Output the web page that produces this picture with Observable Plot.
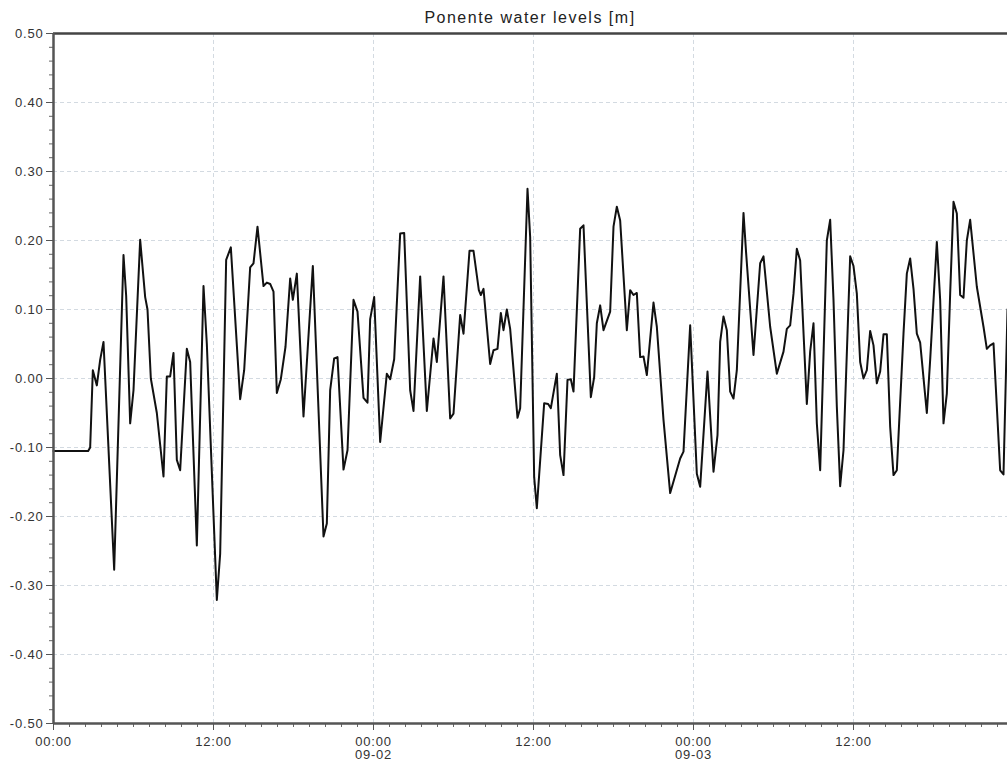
<!DOCTYPE html>
<html>
<head>
<meta charset="utf-8">
<script src="https://cdn.jsdelivr.net/npm/d3@7"></script>
<script src="https://cdn.jsdelivr.net/npm/@observablehq/plot@0.6"></script>
<style>
  html, body { margin: 0; padding: 0; background: #fff; }
  #wrap { position: relative; width: 1007px; height: 773px; overflow: hidden; }
  #title { position: absolute; top: 9px; left: 53px; right: 0; text-align: center;
           font-family: "Liberation Sans", Arial, sans-serif; font-size: 16px;
           letter-spacing: 1.5px; color: #222; }
</style>
</head>
<body>
<div id="wrap"><div id="title"></div></div>
<script>
const titleText = "Ponente water levels [m]";
// hours since 09-01 00:00
const hours = [0,2.6,2.75,2.95,3.25,3.5,3.75,4.55,5.25,5.45,5.75,6.0,6.5,6.875,7.05,7.3,7.75,8.25,8.5,8.75,9.0,9.25,9.5,10.0,10.25,10.75,11.25,11.5,12.25,12.5,12.95,13.3,14.0,14.3,14.75,15.0,15.3,15.75,16.0,16.25,16.5,
16.75,17.05,17.4,17.75,17.95,18.25,18.75,19.45,20.25,20.5,20.75,21.05,21.3,21.75,22.05,22.5,22.8,23.25,23.55,23.75,24.05,24.5,25.0,25.25,25.55,26.0,26.3,26.75,27.0,27.5,28.0,28.5,28.75,29.25,29.75,30.0,30.5,30.75,31.2,31.5,31.9,32.05,32.25,32.75,33.0,33.3,33.55,33.75,34.0,34.25,
34.8,35.0,35.55,35.75,36.05,36.25,36.8,37.1,37.3,37.75,38.0,38.25,38.55,38.8,39.0,39.5,39.75,40.3,40.55,40.75,41.0,41.25,41.75,42.0,42.25,42.5,43.0,43.25,43.5,43.75,44.0,44.25,44.5,45.0,45.25,45.75,46.25,47.0,47.25,47.75,48.25,48.5,49.05,49.5,49.8,50.0,50.25,50.5,50.75,51.0,51.25,
51.75,51.95,52.5,53.0,53.25,53.75,54.25,54.75,55.0,55.25,55.5,55.75,56.0,56.5,56.75,57.0,57.25,57.5,58.0,58.25,58.5,58.75,59.0,59.25,59.75,60.0,60.25,60.5,60.75,61.0,61.25,61.5,61.75,62.0,62.25,62.5,62.75,63.0,63.25,63.75,64.0,64.25,64.5,64.75,65.0,65.5,65.75,66.25,66.5,66.75,67.0,67.25,67.5,67.75,68.0,68.25,68.5,68.75,69.25,69.75,70.0,70.25,70.5,71.0,71.25,71.55];
const levels = [-0.105,-0.105,-0.10,0.012,-0.01,0.027,0.053,-0.277,0.179,0.12,-0.065,-0.017,0.201,0.118,0.10,0.0,-0.05,-0.142,0.003,0.003,0.037,-0.118,-0.133,0.043,0.024,-0.242,0.134,0.05,-0.321,-0.254,0.172,0.19,-0.03,0.012,0.161,0.167,0.22,0.134,0.139,0.137,0.126,
-0.021,-0.001,0.046,0.145,0.114,0.152,-0.055,0.163,-0.229,-0.21,-0.017,0.029,0.031,-0.132,-0.104,0.114,0.097,-0.028,-0.035,0.086,0.118,-0.092,0.007,-0.001,0.028,0.21,0.211,-0.017,-0.047,0.148,-0.047,0.058,0.024,0.148,-0.058,-0.051,0.092,0.065,0.185,0.185,0.128,0.121,0.13,0.021,0.041,0.043,0.095,0.07,0.1,0.072,
-0.057,-0.043,0.275,0.205,-0.143,-0.188,-0.036,-0.037,-0.043,0.007,-0.111,-0.14,-0.002,-0.001,-0.019,0.217,0.222,-0.027,0.002,0.08,0.106,0.07,0.097,0.22,0.249,0.229,0.07,0.128,0.121,0.124,0.031,0.032,0.005,0.11,0.075,-0.06,-0.166,-0.116,-0.106,0.077,-0.138,-0.157,0.01,-0.135,-0.082,0.053,0.09,0.07,-0.019,-0.029,0.012,
0.24,0.181,0.034,0.167,0.177,0.075,0.007,0.039,0.072,0.077,0.123,0.188,0.171,-0.037,0.039,0.08,-0.065,-0.133,0.2,0.23,0.114,-0.041,-0.156,-0.104,0.177,0.163,0.123,0.024,0.0,0.012,0.069,0.048,-0.007,0.01,0.064,0.064,-0.07,-0.14,-0.133,0.065,0.152,0.174,0.13,0.065,0.052,-0.05,0.027,0.198,0.114,-0.065,-0.022,0.123,0.256,0.239,0.121,0.117,0.2,0.23,0.133,0.075,0.043,0.048,0.051,-0.133,-0.139,0.1];

const yTicks = [-0.5,-0.4,-0.3,-0.2,-0.1,0,0.1,0.2,0.3,0.4,0.5];
const yTickLabels = ["-0.50","-0.40","-0.30","-0.20","-0.10","0.00","0.10","0.20","0.30","0.40","0.50"];
const xTickHours = [0,12,24,36,48,60];
const xTickLabels = ["00:00","12:00","00:00\n09-02","12:00","00:00\n09-03","12:00"];
const xEndHours = 71.55;

const start = Date.UTC(2020, 8, 1);
const toDate = h => new Date(start + h * 3600e3);
const data = hours.map((h, i) => ({t: toDate(h), v: levels[i]}));

const xMajor = xTickHours.map(toDate);
const xLabelMap = new Map(xMajor.map((d, i) => [+d, xTickLabels[i]]));
const yLabelMap = new Map(yTicks.map((d, i) => [d, yTickLabels[i]]));
const xMinor = d3.range(0, xEndHours, 1.2).map(toDate);
const yMinor = d3.range(-25, 26).map(k => k / 50);
const grid = {stroke: "#d3dae1", strokeOpacity: 1, strokeDasharray: "4,3", strokeWidth: 1};

document.getElementById("title").textContent = titleText;

const chart = Plot.plot({
  width: 1007,
  height: 773,
  marginLeft: 53,
  marginRight: 0,
  marginTop: 33,
  marginBottom: 50,
  style: {fontFamily: "'Liberation Sans', Arial, sans-serif", fontSize: "13px", color: "#333", background: "transparent", letterSpacing: "0.8px"},
  x: {type: "utc", domain: [toDate(0), toDate(xEndHours)], label: null},
  y: {domain: [-0.5, 0.5], label: null},
  marks: [
    Plot.gridY(yTicks.slice(1, -1), grid),
    Plot.gridX(xMajor.slice(1), grid),
    Plot.axisY(yMinor, {tickSize: 4, tickFormat: () => "", stroke: "#666", label: null}),
    Plot.axisY(yTicks, {tickSize: 7, tickPadding: 3, stroke: "#555", tickFormat: d => yLabelMap.get(d), label: null}),
    Plot.axisX(xMinor, {tickSize: 4, tickFormat: () => "", stroke: "#666", label: null}),
    Plot.axisX(xMajor, {tickSize: 7, tickPadding: 6, stroke: "#555", tickFormat: d => xLabelMap.get(+d), label: null}),
    Plot.line(data, {x: "t", y: "v", stroke: "#111", strokeWidth: 2}),
    Plot.ruleY([0.5], {stroke: "#444", strokeWidth: 2.5}),
    Plot.ruleY([-0.5], {stroke: "#555", strokeWidth: 2.5}),
    Plot.ruleX([toDate(0)], {stroke: "#555", strokeWidth: 2.5})
  ]
});
document.getElementById("wrap").appendChild(chart);
</script>
</body>
</html>
